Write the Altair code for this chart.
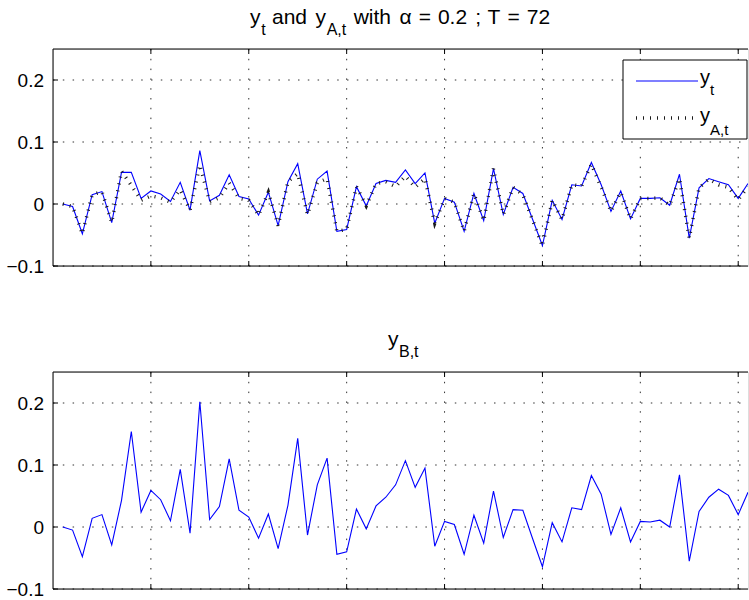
import altair as alt
import pandas as pd

# ---------------- data ----------------
t_vals = list(range(1, 72))

y_t = [0.000, -0.004, -0.048, 0.015, 0.020, -0.030, 0.051, 0.051, 0.009, 0.021,
       0.016, 0.004, 0.035, -0.010, 0.086, 0.005, 0.014, 0.047, 0.012, 0.008,
       -0.018, 0.019, -0.035, 0.036, 0.065, -0.016, 0.040, 0.053, -0.044, -0.041,
       0.028, -0.003, 0.033, 0.038, 0.035, 0.055, 0.033, 0.050, -0.031, 0.009,
       0.003, -0.044, 0.017, -0.027, 0.057, -0.017, 0.027, 0.017, -0.025, -0.067,
       0.006, -0.025, 0.031, 0.029, 0.067, 0.031, -0.012, 0.021, -0.024, 0.009,
       0.009, 0.010, -0.002, 0.048, -0.055, 0.026, 0.041, 0.036, 0.031, 0.009,
       0.033]

y_a = [0.000, -0.004, -0.048, 0.015, 0.020, -0.030, 0.053, 0.030, 0.006, 0.013,
       0.010, 0.003, 0.023, -0.010, 0.063, 0.004, 0.010, 0.034, 0.009, 0.006,
       -0.018, 0.019, -0.035, 0.036, 0.049, -0.017, 0.034, 0.041, -0.044, -0.041,
       0.028, -0.003, 0.033, 0.036, 0.028, 0.045, 0.027, 0.041, -0.031, 0.009,
       0.003, -0.044, 0.017, -0.027, 0.057, -0.017, 0.027, 0.015, -0.026, -0.068,
       0.006, -0.025, 0.031, 0.029, 0.064, 0.027, -0.012, 0.019, -0.024, 0.009,
       0.009, 0.010, -0.002, 0.041, -0.055, 0.026, 0.040, 0.031, 0.027, 0.007,
       0.028]

y_b = [0.000, -0.005, -0.048, 0.014, 0.020, -0.029, 0.043, 0.154, 0.024, 0.059,
       0.044, 0.010, 0.093, -0.010, 0.202, 0.012, 0.033, 0.110, 0.027, 0.016,
       -0.018, 0.021, -0.035, 0.035, 0.143, -0.013, 0.068, 0.111, -0.044, -0.040,
       0.029, -0.003, 0.034, 0.048, 0.068, 0.107, 0.064, 0.095, -0.031, 0.009,
       0.004, -0.044, 0.019, -0.026, 0.058, -0.017, 0.028, 0.027, -0.019, -0.064,
       0.007, -0.024, 0.031, 0.028, 0.083, 0.053, -0.012, 0.031, -0.024, 0.009,
       0.008, 0.011, 0.000, 0.084, -0.055, 0.025, 0.048, 0.061, 0.051, 0.020,
       0.056]

x_tick_vals = [10, 20, 30, 40, 50, 60, 70]
y_tick_vals = [-0.1, 0.0, 0.1, 0.2]
y_tick_labels = ["\u22120.1", "0", "0.1", "0.2"]

df = pd.DataFrame({"t": t_vals, "yt": y_t, "ya": y_a, "yb": y_b})
df_xt = pd.DataFrame({"t": x_tick_vals})
df_yt = pd.DataFrame({"v": y_tick_vals, "lab": y_tick_labels})
one = pd.DataFrame({"a": [0]})

# ---------------- styling ----------------
W, H = 695, 217
FONT = "Liberation Sans"
BLUE = "#0000FF"
xs = alt.Scale(domain=[0, 71], nice=False, zero=False)
ys = alt.Scale(domain=[-0.1, 0.25], nice=False, zero=False)
GRID_DASH = [1.5, 8.3]
GRID_COLOR = "#333333"


def X(field):
    return alt.X(f"{field}:Q", scale=xs, axis=None)


def Y(field):
    return alt.Y(f"{field}:Q", scale=ys, axis=None)


def grid_layers():
    xgrid = alt.Chart(df_xt).mark_rule(color=GRID_COLOR, strokeWidth=1,
                                       strokeDash=GRID_DASH).encode(
        x=X("t"), y=alt.value(0), y2=alt.value(H))
    ygrid = alt.Chart(df_yt).mark_rule(color=GRID_COLOR, strokeWidth=1,
                                       strokeDash=GRID_DASH).encode(
        y=Y("v"), x=alt.value(0), x2=alt.value(W))
    return [xgrid, ygrid]


def frame_layers():
    top_border = alt.Chart(one).mark_rule(color="black", strokeWidth=1).encode(
        x=alt.value(0), x2=alt.value(W), y=alt.value(0))
    bottom_border = alt.Chart(one).mark_rule(color="black", strokeWidth=1).encode(
        x=alt.value(0), x2=alt.value(W), y=alt.value(H))
    left_border = alt.Chart(one).mark_rule(color="black", strokeWidth=1).encode(
        x=alt.value(0), y=alt.value(0), y2=alt.value(H))
    xt_top = alt.Chart(df_xt).mark_rule(color="black", strokeWidth=1).encode(
        x=X("t"), y=alt.value(0), y2=alt.value(5))
    xt_bot = alt.Chart(df_xt).mark_rule(color="black", strokeWidth=1).encode(
        x=X("t"), y=alt.value(H - 5), y2=alt.value(H))
    yt_left = alt.Chart(df_yt).mark_rule(color="black", strokeWidth=1).encode(
        y=Y("v"), x=alt.value(0), x2=alt.value(5))
    ylabels = alt.Chart(df_yt).mark_text(align="right", baseline="middle", font=FONT,
                                         fontSize=19, color="black", dy=1).encode(
        y=Y("v"), x=alt.value(-9), text="lab:N")
    return [top_border, bottom_border, left_border, xt_top, xt_bot, yt_left, ylabels]


def txt(s, x, y, size):
    return alt.Chart(one).mark_text(text=s, align="left", baseline="alphabetic",
                                    font=FONT, fontSize=size, color="black").encode(
        x=alt.value(x), y=alt.value(y))


# ---------------- top panel ----------------
line_t = alt.Chart(df).mark_line(color=BLUE, strokeWidth=1.1, clip=True).encode(
    x=X("t"), y=Y("yt"))
line_a = alt.Chart(df).mark_line(color="#1a1a1a", strokeWidth=3.5, strokeDash=[1, 6],
                                 strokeCap="butt", clip=True).encode(
    x=X("t"), y=Y("ya"))

legend_box = alt.Chart(one).mark_rect(fill="white", stroke="black", strokeWidth=1).encode(
    x=alt.value(570), x2=alt.value(694), y=alt.value(11), y2=alt.value(90))
legend_l1 = alt.Chart(one).mark_rule(color=BLUE, strokeWidth=1.1).encode(
    x=alt.value(583), x2=alt.value(645), y=alt.value(32))
legend_l2 = alt.Chart(one).mark_rule(color="#1a1a1a", strokeWidth=3.5, strokeDash=[1, 6],
                                     strokeCap="butt").encode(
    x=alt.value(583), x2=alt.value(645), y=alt.value(69))

TB, TS = -25, -14   # title baseline and subscript baseline (relative to plot top)
top_title = [
    txt("y", 197, TB, 21), txt("t", 208.2, TS, 16),
    txt("and", 219, TB, 21),
    txt("y", 262.5, TB, 21), txt("A,t", 273.7, TS, 16),
    txt("with", 300.7, TB, 21), txt("\u03b1", 346.6, TB, 21),
    txt("=", 365.7, TB, 21), txt("0.2", 384.9, TB, 21),
    txt(";", 422.2, TB, 21), txt("T", 434.6, TB, 21),
    txt("=", 454.4, TB, 21), txt("72", 473.7, TB, 21),
]
legend_txt = [
    txt("y", 647, 35, 20), txt("t", 657, 46, 15),
    txt("y", 647, 73, 20), txt("A,t", 657, 86, 15),
]

top = alt.layer(*grid_layers(), line_t, line_a, *frame_layers(),
                legend_box, legend_l1, legend_l2,
                *legend_txt, *top_title).properties(width=W, height=H)

# ---------------- bottom panel ----------------
line_b = alt.Chart(df).mark_line(color=BLUE, strokeWidth=1.1, clip=True).encode(
    x=X("t"), y=Y("yb"))
bot_title = [txt("y", 335, -26, 21), txt("B,t", 346, -15, 16)]

bottom = alt.layer(*grid_layers(), line_b, *frame_layers(),
                   *bot_title).properties(width=W, height=H)

chart = alt.vconcat(top, bottom, spacing=106, bounds="flush").properties(
    padding={"left": 5, "top": 6, "right": 0, "bottom": 0}
).configure_view(stroke=None).configure(background="white")

chart.save("out.html", embed_options={"renderer": "svg", "actions": False})
